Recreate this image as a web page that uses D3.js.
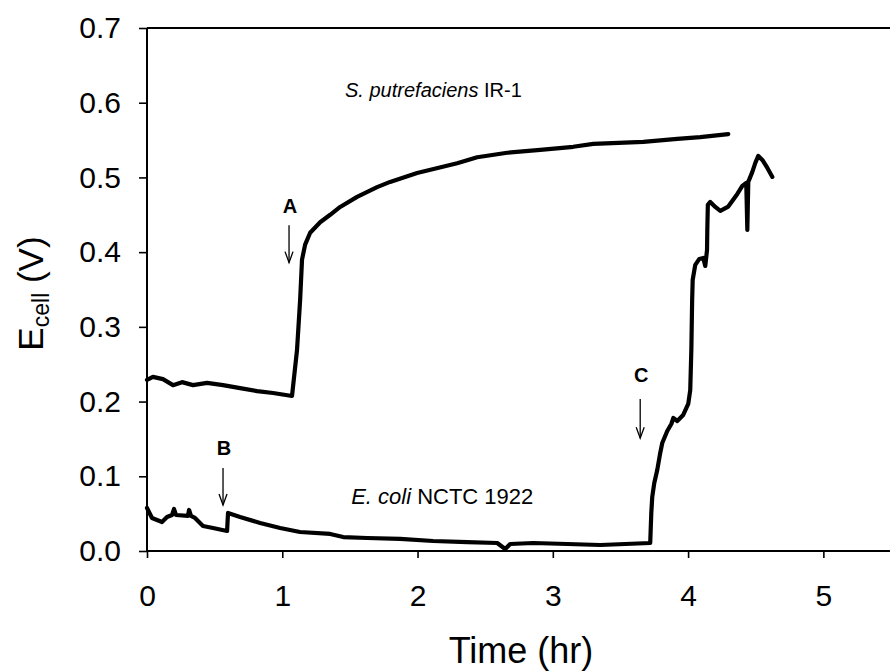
<!DOCTYPE html>
<html>
<head>
<meta charset="utf-8">
<script src="https://cdn.jsdelivr.net/npm/d3@7"></script>
<style>
  html, body { margin: 0; padding: 0; background: #fff; }
  svg { display: block; }
  text { font-family: "Liberation Sans", Arial, sans-serif; fill: #000; }
</style>
</head>
<body>
<svg id="chart" width="890" height="671"></svg>
<script>
// Cell potential over time for two bacterial strains
const putrefTime = [0, 0.044, 0.118, 0.192, 0.259, 0.340, 0.444, 0.562, 0.688, 0.814, 0.932, 1.072,
  1.109, 1.132, 1.146, 1.169, 1.206, 1.280, 1.354, 1.428, 1.553, 1.701, 1.797, 1.997, 2.293,
  2.367, 2.441, 2.663, 2.907, 3.151, 3.299, 3.669, 3.920, 4.090, 4.297];
const putrefVolt = [0.229, 0.233, 0.230, 0.222, 0.226, 0.222, 0.225, 0.222, 0.218, 0.214, 0.2115, 0.2075,
  0.269, 0.336, 0.390, 0.410, 0.426, 0.440, 0.450, 0.4605, 0.474, 0.487, 0.494, 0.506, 0.519,
  0.523, 0.527, 0.533, 0.537, 0.541, 0.545, 0.5475, 0.5515, 0.554, 0.558];

const coliTime = [0, 0.037, 0.111, 0.148, 0.185, 0.200, 0.214, 0.303, 0.311, 0.325, 0.355, 0.414,
  0.488, 0.592, 0.599, 0.688, 0.836, 0.984, 1.131, 1.354, 1.450, 1.627, 1.871, 2.115, 2.367,
  2.589, 2.648, 2.685, 2.855, 3.107, 3.351, 3.720,
  3.728, 3.735, 3.750, 3.772, 3.794, 3.809, 3.846, 3.876, 3.891, 3.920, 3.964, 4.001, 4.016,
  4.024, 4.030, 4.034, 4.053, 4.083, 4.112, 4.127, 4.140, 4.142, 4.146, 4.164, 4.201, 4.238,
  4.297, 4.364, 4.401, 4.430, 4.438, 4.445, 4.475, 4.497, 4.519, 4.549, 4.586, 4.623];
const coliVolt = [0.0576, 0.0442, 0.0388, 0.0455, 0.0482, 0.0562, 0.0482, 0.0469, 0.0549, 0.0469, 0.0442, 0.0335,
  0.0308, 0.0268, 0.0509, 0.0455, 0.0375, 0.0308, 0.0254, 0.0228, 0.0187, 0.0174, 0.0161, 0.0134, 0.0120,
  0.0107, 0.0027, 0.0094, 0.0107, 0.0094, 0.0080, 0.0107,
  0.0509, 0.0723, 0.0910, 0.1084, 0.1312, 0.1446, 0.1606, 0.1700, 0.1780, 0.1740, 0.1821, 0.1968, 0.2155,
  0.2691, 0.3360, 0.3628, 0.3829, 0.3909, 0.3922, 0.3815, 0.4029, 0.4297, 0.4632, 0.4672, 0.4605, 0.4552,
  0.4610, 0.4779, 0.4886, 0.4926, 0.4297, 0.4940, 0.5074, 0.5194, 0.5288, 0.5234, 0.5127, 0.5007];

const xTicks = [0, 1, 2, 3, 4, 5];
const yTicks = [0.0, 0.1, 0.2, 0.3, 0.4, 0.5, 0.6, 0.7];

// Event markers: letter, time of addition, label baseline, arrow top and tip
const markLetters = ["A", "B", "C"];
const markTime = [1.05, 0.562, 3.646];
const markLabelV = [0.452, 0.1285, 0.226];
const markArrowTop = [0.436, 0.111, 0.2035];
const markArrowTip = [0.386, 0.0616, 0.151];

const svg = d3.select("#chart");
const plotL = 147, plotR = 891, plotT = 28, plotB = 551;

const x = d3.scaleLinear().domain([0, 5.5]).range([plotL, plotR]);
const y = d3.scaleLinear().domain([0, 0.7]).range([plotB, plotT]);

// Frame
svg.append("line").attr("x1", x(0)).attr("x2", x(5.5)).attr("y1", y(0.7)).attr("y2", y(0.7))
  .attr("stroke", "#000").attr("stroke-width", 2);

// Axes
const xAxis = svg.append("g").attr("transform", `translate(0,${plotB})`)
  .call(d3.axisBottom(x).tickValues(xTicks).tickFormat(d3.format("d")).tickSize(7).tickPadding(27));
const yAxis = svg.append("g").attr("transform", `translate(${plotL},0)`)
  .call(d3.axisLeft(y).tickValues(yTicks).tickFormat(d3.format(".1f")).tickSize(8).tickPadding(18));

[xAxis, yAxis].forEach(g => {
  g.select(".domain").attr("stroke", "#000").attr("stroke-width", 2);
  g.selectAll(".tick line").attr("stroke", "#000").attr("stroke-width", 1.6);
  g.selectAll(".tick text").attr("font-size", 30).attr("font-family", "Liberation Sans, Arial, sans-serif").attr("fill", "#000");
});
xAxis.select(".domain").attr("d", `M${x(0)},0H${x(5.5)}`);
yAxis.select(".domain").attr("d", `M0,${y(0)}V${y(0.7)}`);

// Axis titles
svg.append("text").attr("x", 521).attr("y", 663)
  .attr("text-anchor", "middle").attr("font-size", 36).text("Time (hr)");

const yTitle = svg.append("text")
  .attr("transform", `translate(43,${(plotT + plotB) / 2 + 4}) rotate(-90)`)
  .attr("text-anchor", "middle").attr("font-size", 35);
yTitle.append("tspan").text("E");
yTitle.append("tspan").attr("font-size", 23).attr("dy", 6).text("cell");
yTitle.append("tspan").attr("dy", -6).text(" (V)");

// Curves
const line = d3.line().x(d => x(d[0])).y(d => y(d[1]));
const series = [
  d3.zip(putrefTime, putrefVolt),
  d3.zip(coliTime, coliVolt)
];
svg.selectAll("path.curve").data(series).join("path")
  .attr("class", "curve")
  .attr("d", line)
  .attr("fill", "none").attr("stroke", "#000").attr("stroke-width", 4.2)
  .attr("stroke-linejoin", "round").attr("stroke-linecap", "round");

// Strain labels
const t1 = svg.append("text").attr("x", x(1.464)).attr("y", y(0.608)).attr("font-size", 20);
t1.append("tspan").attr("font-style", "italic").text("S. putrefaciens");
t1.append("tspan").text(" IR-1");

const t2 = svg.append("text").attr("x", x(1.509)).attr("y", y(0.063)).attr("font-size", 22);
t2.append("tspan").attr("font-style", "italic").text("E. coli");
t2.append("tspan").text(" NCTC 1922");

// Event arrows
markLetters.forEach((letter, i) => {
  const cx = x(markTime[i]);
  svg.append("text").attr("x", cx + 1).attr("y", y(markLabelV[i]))
    .attr("text-anchor", "middle").attr("font-size", 20).attr("font-weight", "bold").text(letter);
  const y0 = y(markArrowTop[i]), y1 = y(markArrowTip[i]);
  svg.append("line").attr("x1", cx).attr("x2", cx).attr("y1", y0).attr("y2", y1)
    .attr("stroke", "#000").attr("stroke-width", 1.3);
  svg.append("path").attr("d", `M${cx - 4},${y1 - 11}L${cx},${y1}L${cx + 4},${y1 - 11}`)
    .attr("fill", "none").attr("stroke", "#000").attr("stroke-width", 1.3);
});
</script>
</body>
</html>
